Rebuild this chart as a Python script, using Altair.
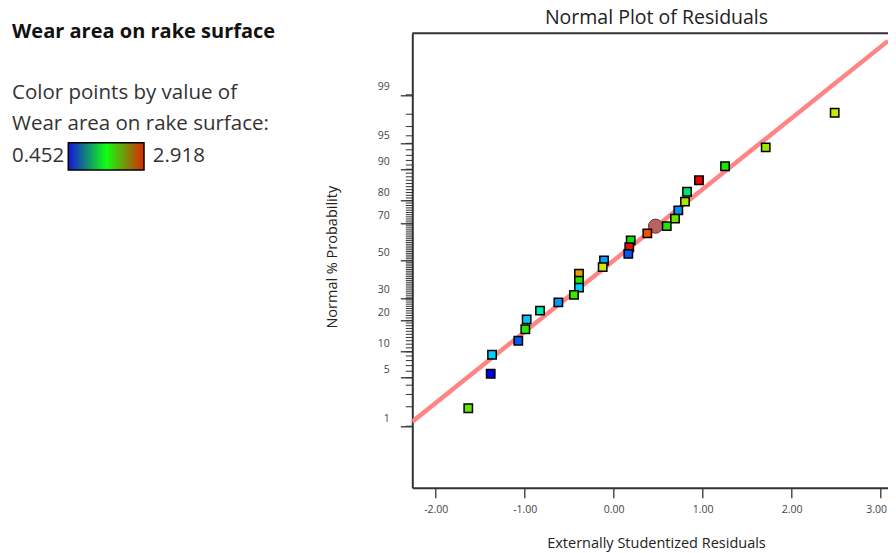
import altair as alt
import pandas as pd
from statistics import NormalDist

# ---------------- data ----------------
resid = [2.483, 1.708, 1.251, 0.958, 0.824, 0.801, 0.726, 0.689, 0.596, 0.378,
         0.191, 0.175, 0.164, -0.109, -0.124, -0.390, -0.390, -0.390, -0.446,
         -0.622, -0.828, -0.978, -0.993, -1.072, -1.367, -1.382, -1.634]
prob_pct = [98.1, 94.4, 90.7, 87.0, 83.3, 79.6, 75.9, 72.2, 68.5, 64.8,
            61.1, 57.4, 53.7, 50.0, 46.3, 42.6, 38.9, 35.2, 31.5,
            27.8, 24.1, 20.4, 16.7, 13.0, 9.3, 5.6, 1.9]
wear = [2.24, 2.10, 1.76, 2.918, 1.40, 2.14, 0.84, 1.97, 1.78, 2.70,
        1.69, 2.89, 0.69, 0.89, 2.25, 2.50, 1.78, 1.01, 1.85,
        0.86, 1.27, 0.98, 1.81, 0.69, 1.01, 0.452, 1.95]

marker_resid = [0.47]
marker_pct = [68.5]

major_pct = [1, 5, 10, 20, 30, 50, 70, 80, 90, 95, 99]
minor_pct = list(range(1, 100))
x_ticks = [-2, -1, 0, 1, 2, 3]
x_domain = [-2.263, 3.082]
y_domain_z = [-3.19, 3.19]
fit_slope, fit_intercept = 1.0, 0.0

wear_min, wear_max = 0.452, 2.918
color_stop_values = [0.452, 1.0685, 1.685, 2.3015, 2.918]
color_stops = ["#0000f0", "#00e6ff", "#00e600", "#e6e600", "#f00000"]

title_text = "Normal Plot of Residuals"
panel_title = "Wear area on rake surface"
panel_line1 = "Color points by value of"
panel_line2 = "Wear area on rake surface:"
x_title = "Externally Studentized Residuals"
y_title = "Normal % Probability"

# ---------------- helpers ----------------
nd = NormalDist()


def probit(p):
    return nd.inv_cdf(p / 100.0)


pts = pd.DataFrame({
    "resid": resid,
    "z": [probit(p) for p in prob_pct],
    "pct": prob_pct,
    "wear": wear,
})
marker_df = pd.DataFrame({"resid": marker_resid, "z": [probit(p) for p in marker_pct]})
line_df = pd.DataFrame({"resid": x_domain,
                        "z": [fit_slope * x + fit_intercept for x in x_domain]})
minor_df = pd.DataFrame({"z": [probit(p) for p in minor_pct]})
one = pd.DataFrame({"k": [0]})

W, H = 475.7, 454.4
FONT = "Open Sans"
AX = "#333333"

x_scale = alt.Scale(domain=x_domain, nice=False, zero=False)
y_scale = alt.Scale(domain=y_domain_z, nice=False, zero=False)

line = alt.Chart(line_df).mark_line(color="#ff8585", strokeWidth=4.5, clip=True).encode(
    x=alt.X("resid:Q", scale=x_scale, axis=None),
    y=alt.Y("z:Q", scale=y_scale, axis=None),
)

minor_ticks = alt.Chart(minor_df).mark_rule(color=AX, strokeWidth=1).encode(
    y=alt.Y("z:Q", scale=y_scale, axis=None),
    x=alt.value(-6.5), x2=alt.value(0),
)

marker = alt.Chart(marker_df).mark_circle(size=200, color="#b86262", stroke="#6a3535",
                                          strokeWidth=1, opacity=1).encode(
    x=alt.X("resid:Q", scale=x_scale, axis=None),
    y=alt.Y("z:Q", scale=y_scale, axis=None),
)

points = alt.Chart(pts).mark_square(size=70, stroke="black", strokeWidth=1.5,
                                    opacity=1).encode(
    x=alt.X("resid:Q", scale=x_scale,
            axis=alt.Axis(values=x_ticks, orient="bottom",
                          labelExpr="replace(format(datum.value, '.2f'), '\u2212', '-')",
                          labelOffset={"condition": {"test": "datum.value == 3", "value": -4.5},
                                       "value": 0},
                          grid=False, tickSize=10, tickColor=AX, tickWidth=1.3,
                          domainColor=AX, domainWidth=2,
                          labelFont=FONT, labelFontSize=10.5, labelColor="#444444",
                          labelPadding=7,
                          title=x_title, titleFont=FONT, titleFontSize=14.5,
                          titleFontWeight="normal", titleColor="#222222",
                          titleX=243.7, titleY=55.3, titleBaseline="middle",
                          titleAlign="center")),
    y=alt.Y("z:Q", scale=y_scale,
            axis=alt.Axis(values=[probit(p) for p in major_pct], orient="left",
                          labelExpr="format(cumulativeNormal(datum.value) * 100, '.0f')",
                          grid=False, tickSize=12, tickColor=AX, tickWidth=1.3,
                          domainColor=AX, domainWidth=2,
                          labelFont=FONT, labelFontSize=10.5, labelColor="#444444",
                          labelPadding=11, labelBaseline="middle", labelOffset=-8,
                          title=y_title, titleFont=FONT, titleFontSize=14.5,
                          titleFontWeight="normal", titleColor="#222222",
                          titleAngle=270, titleX=-80, titleY=223.4,
                          titleAlign="center", titleBaseline="middle")),
    color=alt.Color("wear:Q", legend=None,
                    scale=alt.Scale(domain=color_stop_values, range=color_stops,
                                    interpolate="rgb")),
)

border_top = alt.Chart(one).mark_rule(color=AX, strokeWidth=2).encode(
    x=alt.value(0), x2=alt.value(W), y=alt.value(0))


def txt(s, x, y, size, weight="normal", color="#333333", align="left"):
    return alt.Chart(one).mark_text(text=s, align=align, baseline="alphabetic",
                                    font=FONT, fontSize=size, fontWeight=weight,
                                    color=color).encode(x=alt.value(x), y=alt.value(y))


title_mark = txt(title_text, 244.2, -9.2, 19.5, color="#222222", align="center")
p_title = txt(panel_title, -400.3, 4.7, 20, weight="bold", color="#111111")
p_l1 = txt(panel_line1, -400.3, 66, 20.5)
p_l2 = txt(panel_line2, -400.3, 96.7, 20.5)
p_min = txt(f"{wear_min:.3f}", -400.3, 128.4, 20.5)
p_max = txt(f"{wear_max:.3f}", -259.6, 128.4, 20.5)

grad = alt.Chart(one).mark_rect(
    color=alt.Gradient(gradient="linear",
                       stops=[alt.GradientStop(offset=0, color="#1414dc"),
                              alt.GradientStop(offset=0.5, color="#10ff10"),
                              alt.GradientStop(offset=1, color="#dc2800")],
                       x1=0, x2=1, y1=0, y2=0),
    stroke="black", strokeWidth=1.5,
).encode(x=alt.value(-344), x2=alt.value(-268.3), y=alt.value(109.4), y2=alt.value(136.7))

chart = alt.layer(
    line, minor_ticks, marker, points, border_top, title_mark,
    p_title, p_l1, p_l2, p_min, p_max, grad,
).resolve_axis(x="independent", y="independent").properties(
    width=W, height=H,
    padding={"left": 404.3, "top": 25.3, "right": 0, "bottom": 65.3},
    autosize=alt.AutoSizeParams(type="none"),
    background="white",
).configure_view(stroke="transparent")

chart.save("out.html", embed_options={"renderer": "svg", "actions": False})
